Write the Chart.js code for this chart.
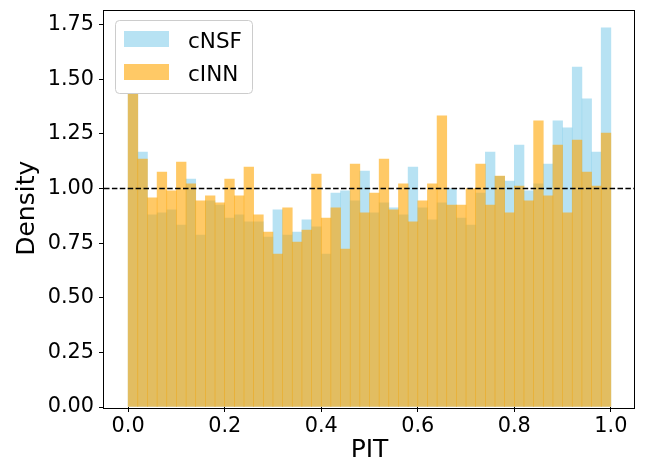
<!DOCTYPE html>
<html>
<head>
<meta charset="utf-8">
<script src="https://cdn.jsdelivr.net/npm/chart.js@4/dist/chart.umd.min.js"></script>
<style>
  html, body { margin: 0; padding: 0; background: #fff; }
  canvas { display: block; }
</style>
</head>
<body>
<canvas id="graficoPit" width="652" height="461"></canvas>
<script>
// centros de los 50 bins del histograma PIT
const centrosBins = [
  0.01, 0.03, 0.05, 0.07, 0.09, 0.11, 0.13, 0.15, 0.17, 0.19,
  0.21, 0.23, 0.25, 0.27, 0.29, 0.31, 0.33, 0.35, 0.37, 0.39,
  0.41, 0.43, 0.45, 0.47, 0.49, 0.51, 0.53, 0.55, 0.57, 0.59,
  0.61, 0.63, 0.65, 0.67, 0.69, 0.71, 0.73, 0.75, 0.77, 0.79,
  0.81, 0.83, 0.85, 0.87, 0.89, 0.91, 0.93, 0.95, 0.97, 0.99
];

const densidadCnsf = [
  1.47, 1.167, 0.879, 0.888, 0.902, 0.833, 1.043, 0.787, 0.943, 0.924,
  0.865, 0.879, 0.847, 0.847, 0.778, 0.902, 0.787, 0.800, 0.856, 0.824,
  0.700, 0.979, 0.989, 0.943, 1.080, 0.888, 0.934, 0.911, 0.879, 1.098,
  0.911, 0.856, 0.934, 1.000, 0.865, 0.833, 0.979, 1.167, 1.055, 1.034,
  1.199, 0.989, 1.021, 1.112, 1.309, 1.277, 1.556, 1.410, 1.167, 1.735
];

const densidadCinn = [
  1.50, 1.135, 0.957, 1.075, 0.989, 1.121, 1.021, 0.943, 0.966, 0.934,
  1.043, 0.966, 1.098, 0.879, 0.800, 0.700, 0.911, 0.755, 0.810, 1.066,
  0.865, 0.911, 0.723, 1.112, 0.888, 0.979, 1.135, 0.902, 1.021, 0.847,
  0.943, 1.021, 1.332, 0.924, 0.924, 1.000, 1.112, 0.924, 1.057, 0.888,
  1.011, 0.943, 1.309, 0.966, 1.199, 0.888, 1.222, 1.075, 1.011, 1.254
];

const ticksX = [0.0, 0.2, 0.4, 0.6, 0.8, 1.0];
const ticksY = [0.00, 0.25, 0.50, 0.75, 1.00, 1.25, 1.50, 1.75];
const lineaReferencia = 1.0;

const fuente = '"DejaVu Sans", sans-serif';

// leyenda dibujada a mano dentro del area del grafico (como matplotlib)
const leyendaPlugin = {
    id: 'leyendaPlugin',
    afterDatasetsDraw(chart) {
        const ctx = chart.ctx;
        ctx.save();
        ctx.beginPath();
        ctx.roundRect(115.5, 20.5, 137, 73, 4);
        ctx.fillStyle = '#ffffff';
        ctx.fill();
        ctx.strokeStyle = '#cccccc';
        ctx.lineWidth = 1;
        ctx.stroke();

        const items = [chart.data.datasets[0], chart.data.datasets[1]];
        const filas = [31, 64];
        items.forEach((ds, i) => {
            ctx.fillStyle = ds.backgroundColor;
            ctx.fillRect(124, filas[i], 45, 16);
            ctx.fillStyle = '#000000';
            ctx.font = '21.5px ' + fuente;
            ctx.textBaseline = 'alphabetic';
            ctx.textAlign = 'left';
            ctx.fillText(ds.label, 188, filas[i] + 17);
        });
        ctx.restore();
    },
    afterDraw(chart) {
        const a = chart.chartArea;
        const ctx = chart.ctx;
        ctx.save();
        ctx.strokeStyle = '#000000';
        ctx.lineWidth = 1;
        ctx.strokeRect(Math.round(a.left) - 0.5, Math.round(a.top) + 0.5, Math.round(a.right - a.left), Math.round(a.bottom - a.top));
        ctx.restore();
    }
};

new Chart(
    document.getElementById('graficoPit'),
    {
        type: 'bar',
        plugins: [leyendaPlugin],
        data: {
            datasets: [
                {
                    label: 'cNSF',
                    data: centrosBins.map((x, i) => ({ x: x, y: densidadCnsf[i] })),
                    backgroundColor: 'rgba(135, 206, 235, 0.6)',
                    borderWidth: 0,
                    grouped: false,
                    barPercentage: 1,
                    categoryPercentage: 1,
                    order: 2
                }, {
                    label: 'cINN',
                    data: centrosBins.map((x, i) => ({ x: x, y: densidadCinn[i] })),
                    backgroundColor: 'rgba(255, 165, 0, 0.6)',
                    borderWidth: 0,
                    grouped: false,
                    barPercentage: 1,
                    categoryPercentage: 1,
                    order: 1
                }, {
                    type: 'line',
                    label: 'ref',
                    data: [{ x: -0.05, y: lineaReferencia }, { x: 1.05, y: lineaReferencia }],
                    borderColor: '#000000',
                    borderWidth: 1.5,
                    borderDash: [5.5, 2.4],
                    pointRadius: 0,
                    fill: false,
                    order: 0
                }
            ]
        },
        options: {
            responsive: false,
            animation: false,
            events: [],
            layout: {
                padding: { top: 9.5, right: 17, left: 0, bottom: 0 }
            },
            plugins: {
                legend: { display: false },
                tooltip: { enabled: false }
            },
            scales: {
                x: {
                    type: 'linear',
                    min: -0.05,
                    max: 1.05,
                    offset: false,
                    afterBuildTicks: (scale) => {
                        scale.ticks = ticksX.map(v => ({ value: v }));
                    },
                    afterFit: (scale) => {
                        scale.height = 54;
                        scale.paddingLeft = 0;
                        scale.paddingRight = 0;
                    },
                    border: { display: false },
                    grid: {
                        offset: false,
                        drawOnChartArea: false,
                        drawTicks: true,
                        tickLength: 5,
                        color: '#000000'
                    },
                    ticks: {
                        color: '#000000',
                        padding: 2,
                        maxRotation: 0,
                        font: { family: fuente, size: 20.8 },
                        callback: (v) => Number(v).toFixed(1)
                    },
                    title: {
                        display: true,
                        text: 'PIT',
                        color: '#000000',
                        font: { family: fuente, size: 25, lineHeight: 1.0 },
                        padding: { top: 0, bottom: -2 }
                    }
                },
                y: {
                    min: 0,
                    max: 1.819,
                    afterBuildTicks: (scale) => {
                        scale.ticks = ticksY.map(v => ({ value: v }));
                    },
                    afterFit: (scale) => {
                        scale.width = 104;
                        scale.paddingTop = 0;
                        scale.paddingBottom = 0;
                    },
                    border: { display: false },
                    grid: {
                        offset: false,
                        drawOnChartArea: false,
                        drawTicks: true,
                        tickLength: 5,
                        color: '#000000'
                    },
                    ticks: {
                        color: '#000000',
                        padding: 5,
                        font: { family: fuente, size: 20.8 },
                        callback: (v) => Number(v).toFixed(2)
                    },
                    title: {
                        display: true,
                        text: 'Density',
                        color: '#000000',
                        font: { family: fuente, size: 25 },
                        padding: { top: 12, bottom: 0 }
                    }
                }
            }
        }
    }
);
</script>
</body>
</html>
